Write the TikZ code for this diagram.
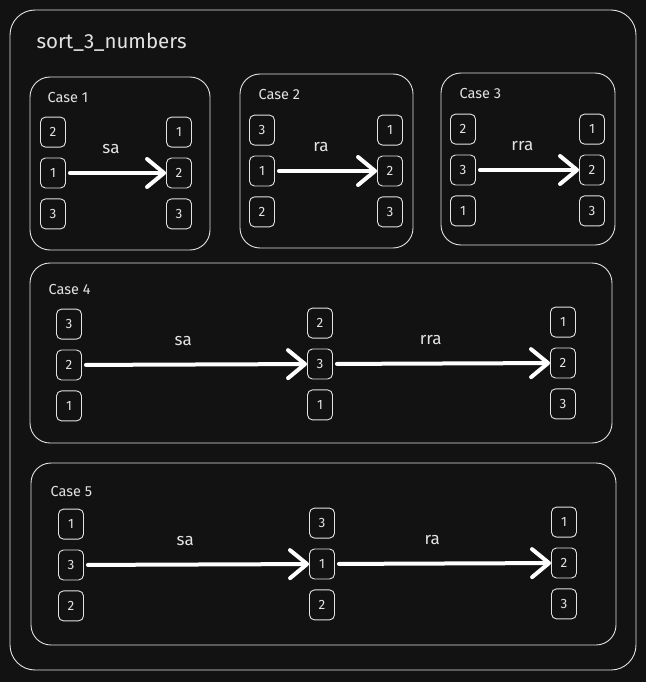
\documentclass[tikz,border=0pt]{standalone}
\usepackage{fontspec}
\setmainfont{Fira Sans}
\usetikzlibrary{positioning}
\usetikzlibrary{arrows.meta}
\definecolor{canvas}{HTML}{121212}
\definecolor{ink}{HTML}{E3E3E3}

\begin{document}
\begin{tikzpicture}[x=1pt, y=-1pt, node distance=10pt,
    cell/.style={draw=ink, rounded corners=5pt, minimum width=25pt, minimum height=30pt,
        inner sep=1pt, line width=0.9pt, text=ink, font=\fontsize{13.5}{15}\selectfont},
    casebox/.style={draw=ink, rounded corners=20pt, line width=0.9pt},
    caption/.style={anchor=west, text=ink, font=\fontsize{14.5}{17}\selectfont},
    move/.style={color=white, line width=4pt, line cap=round, shorten <=4pt,
        -{Straight Barb[length=17pt, width=28pt, round]}},
    movelabel/.style={above=14pt, pos=0.45, text=ink, font=\fontsize{17}{19}\selectfont}]

        \fill[canvas] (0,0) rectangle (646,682);

        \draw[casebox, rounded corners=25pt] (10,10) rectangle (636,670);
        \node[caption, font=\fontsize{20.5}{23}\selectfont] (title) at (33,42) {sort\_3\_numbers};

        \draw[casebox] (30,77) rectangle (210,250);
        \draw[casebox] (240,74) rectangle (413,248);
        \draw[casebox] (441,73) rectangle (615,245);
        \draw[casebox] (30,263) rectangle (612,443);
        \draw[casebox] (31,463) rectangle (616,645);

        \node[caption] (cap1) at (44,98) {Case 1};
        \node[caption] (cap2) at (255,95) {Case 2};
        \node[caption] (cap3) at (456,94) {Case 3};
        \node[caption] (cap4) at (45,290) {Case 4};
        \node[caption] (cap5) at (47,491) {Case 5};

        % case 1
        \node[cell] (L1m) at (53,173) {1};
        \node[cell] (L1t) [above=of L1m] {2};
        \node[cell] (L1b) [below=of L1m] {3};
        \node[cell] (R1m) at (179,173) {2};
        \node[cell] (R1t) [above=of R1m] {1};
        \node[cell] (R1b) [below=of R1m] {3};

        % case 2
        \node[cell] (L2m) at (262,171) {1};
        \node[cell] (L2t) [above=of L2m] {3};
        \node[cell] (L2b) [below=of L2m] {2};
        \node[cell] (R2m) at (390,171) {2};
        \node[cell] (R2t) [above=of R2m] {1};
        \node[cell] (R2b) [below=of R2m] {3};

        % case 3
        \node[cell] (L3m) at (463,170) {3};
        \node[cell] (L3t) [above=of L3m] {2};
        \node[cell] (L3b) [below=of L3m] {1};
        \node[cell] (R3m) at (592,170) {2};
        \node[cell] (R3t) [above=of R3m] {1};
        \node[cell] (R3b) [below=of R3m] {3};

        % case 4
        \node[cell] (L4m) at (69,365) {2};
        \node[cell] (L4t) [above=of L4m] {3};
        \node[cell] (L4b) [below=of L4m] {1};
        \node[cell] (M4m) at (320,364) {3};
        \node[cell] (M4t) [above=of M4m] {2};
        \node[cell] (M4b) [below=of M4m] {1};
        \node[cell] (R4m) at (563,363) {2};
        \node[cell] (R4t) [above=of R4m] {1};
        \node[cell] (R4b) [below=of R4m] {3};

        % case 5
        \node[cell] (L5m) at (71,565) {3};
        \node[cell] (L5t) [above=of L5m] {1};
        \node[cell] (L5b) [below=of L5m] {2};
        \node[cell] (M5m) at (322,564) {1};
        \node[cell] (M5t) [above=of M5m] {3};
        \node[cell] (M5b) [below=of M5m] {2};
        \node[cell] (R5m) at (564,563) {2};
        \node[cell] (R5t) [above=of R5m] {1};
        \node[cell] (R5b) [below=of R5m] {3};

        \begin{scope}[move]
            \draw (L1m) -- node[movelabel] {sa} (R1m);
            \draw (L2m) -- node[movelabel] {ra} (R2m);
            \draw (L3m) -- node[movelabel] {rra} (R3m);

            \draw (L4m) -- node[movelabel] {sa} (M4m);
            \draw (M4m) -- node[movelabel] {rra} (R4m);

            \draw (L5m) -- node[movelabel] {sa} (M5m);
            \draw (M5m) -- node[movelabel] {ra} (R5m);
        \end{scope}

    \end{tikzpicture}
\end{document}
